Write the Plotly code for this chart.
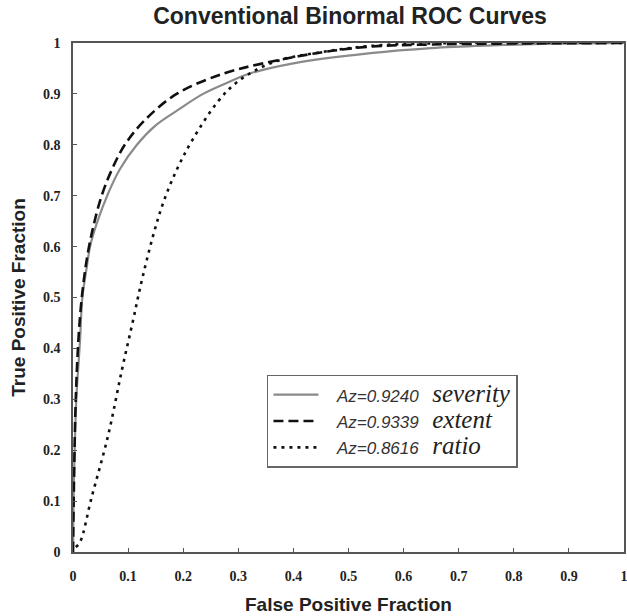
import plotly.graph_objects as go

# ---- data ----
severity_fpf = [0, 0.001, 0.003, 0.006, 0.010, 0.013, 0.017, 0.025, 0.031, 0.043, 0.064, 0.085,
                0.116, 0.150, 0.190, 0.236, 0.280, 0.321, 0.400, 0.540, 0.650, 0.750, 0.850, 1.0]
severity_tpf = [0, 0.10, 0.20, 0.30, 0.37, 0.42, 0.50, 0.56, 0.60, 0.645, 0.705, 0.752,
                0.80, 0.838, 0.868, 0.900, 0.922, 0.940, 0.960, 0.980, 0.990, 0.995, 0.998, 1.0]

extent_fpf = [0, 0.002, 0.005, 0.010, 0.016, 0.025, 0.037, 0.052, 0.070, 0.094, 0.130, 0.188,
              0.273, 0.345, 0.442, 0.540, 0.650, 0.800, 1.0]
extent_tpf = [0, 0.15, 0.30, 0.42, 0.50, 0.575, 0.64, 0.70, 0.75, 0.80, 0.848, 0.90,
              0.94, 0.96, 0.98, 0.993, 0.997, 0.999, 1.0]

ratio_fpf = [0.005, 0.013, 0.033, 0.064, 0.088, 0.110, 0.122, 0.145, 0.165, 0.190, 0.217,
             0.263, 0.300, 0.363, 0.450, 0.550, 0.700, 1.0]
ratio_tpf = [0.01, 0.02, 0.104, 0.230, 0.354, 0.460, 0.520, 0.620, 0.690, 0.755, 0.810,
             0.885, 0.925, 0.962, 0.982, 0.995, 1.0, 1.0]

az_values = ["0.9240", "0.9339", "0.8616"]
series_names = ["severity", "extent", "ratio"]
tick_vals = [0, 0.1, 0.2, 0.3, 0.4, 0.5, 0.6, 0.7, 0.8, 0.9, 1]
tick_text = ["0", "0.1", "0.2", "0.3", "0.4", "0.5", "0.6", "0.7", "0.8", "0.9", "1"]


def legend_name(az, name):
    return ('&nbsp;&nbsp;&nbsp;'
            '<span style="font-family:Liberation Sans;font-size:17px;font-style:italic;fill:#333">'
            f'Az={az}</span>&nbsp;&nbsp;&nbsp;'
            f'<span style="font-size:25px;font-style:italic">{name}</span>')


fig = go.Figure()
fig.add_trace(go.Scatter(x=severity_fpf, y=severity_tpf, mode="lines",
                         name=legend_name(az_values[0], series_names[0]),
                         line=dict(color="#8a8a8a", width=2.2, shape="spline")))
fig.add_trace(go.Scatter(x=extent_fpf, y=extent_tpf, mode="lines",
                         name=legend_name(az_values[1], series_names[1]),
                         line=dict(color="#111111", width=2.6, dash="10px,5px", shape="spline")))
fig.add_trace(go.Scatter(x=ratio_fpf, y=ratio_tpf, mode="lines",
                         name=legend_name(az_values[2], series_names[2]),
                         line=dict(color="#111111", width=2.6, dash="3px,5px", shape="spline")))

axis_common = dict(
    range=[0, 1], tickvals=tick_vals, ticktext=tick_text, automargin=False,
    showgrid=False, zeroline=False, showline=True, linecolor="#555555", linewidth=1.5,
    mirror=True, ticks="inside", ticklen=4, tickcolor="#555555", ticklabeloverflow="allow",
    tickfont=dict(family="Liberation Serif", size=14, color="#222222", weight="bold"),
)

fig.update_layout(
    width=627, height=616,
    margin=dict(l=73, r=3, t=43, b=64),
    paper_bgcolor="white", plot_bgcolor="white",
    title=dict(text="<b>Conventional Binormal ROC Curves</b>", x=350 / 627, xanchor="center",
               y=1 - 16 / 616, yanchor="middle", yref="container",
               font=dict(family="Liberation Sans", size=23, color="#222222")),
    xaxis=dict(**axis_common, ticklabelstandoff=10,
               title=dict(text="<b>False Positive Fraction</b>", standoff=15,
                          font=dict(family="Liberation Sans", size=19, color="#222222"))),
    yaxis=dict(**axis_common, ticklabelstandoff=8,
               title=dict(text="<b>True Positive Fraction</b>", standoff=12,
                          font=dict(family="Liberation Sans", size=19, color="#222222"))),
    legend=dict(x=0.352, y=0.348, xanchor="left", yanchor="top",
                bgcolor="white", bordercolor="#666666", borderwidth=1.5,
                font=dict(family="Liberation Serif", size=18, color="#222222"),
                tracegroupgap=0, itemwidth=45),
    showlegend=True,
)

fig.write_html("out.html", config={"displayModeBar": False},
               post_script="document.body.style.margin='0';document.body.style.overflow='hidden';")
